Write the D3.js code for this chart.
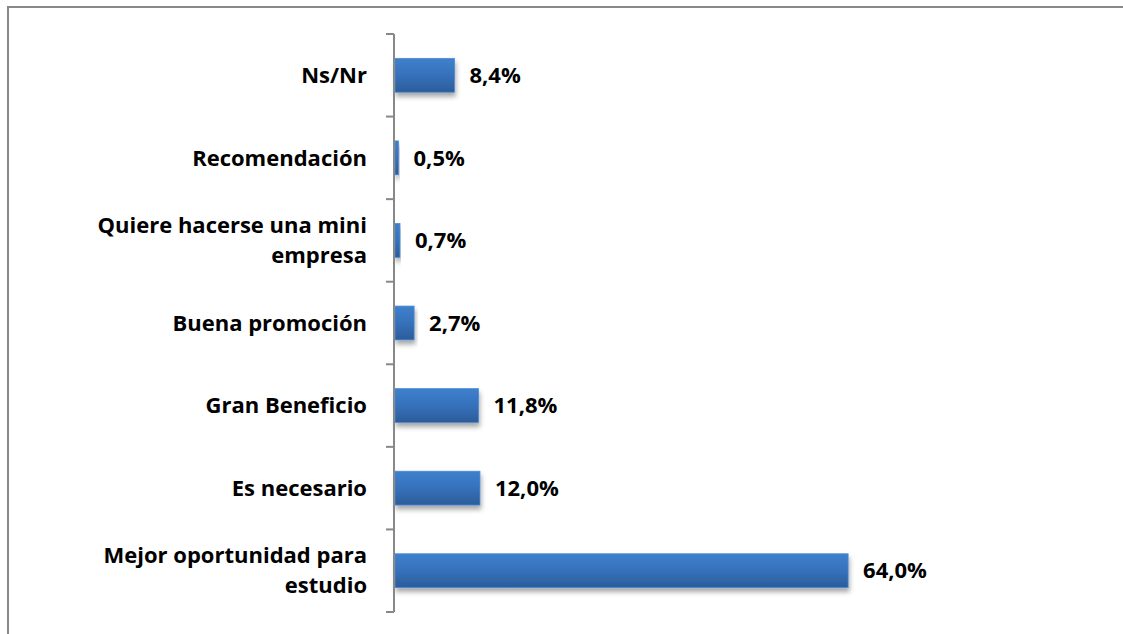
<!DOCTYPE html>
<html>
<head>
<meta charset="utf-8">
<script src="https://cdn.jsdelivr.net/npm/d3@7"></script>
<style>
  html, body { margin: 0; padding: 0; background: #fff; }
  svg { display: block; }
  text { font-family: "Open Sans", Lato, sans-serif; font-weight: bold; fill: #000; }
</style>
</head>
<body>
<svg id="chart" width="1123" height="634"></svg>
<script>
// categories top to bottom, as shown in the chart
const categories = [
    ['Ns/Nr'],
    ['Recomendación'],
    ['Quiere hacerse una mini', 'empresa'],
    ['Buena promoción'],
    ['Gran Beneficio'],
    ['Es necesario'],
    ['Mejor oportunidad para', 'estudio']
];
const values = [8.4, 0.5, 0.7, 2.7, 11.8, 12.0, 64.0];
const valueLabels = ['8,4%', '0,5%', '0,7%', '2,7%', '11,8%', '12,0%', '64,0%'];

const width = 1123;
const height = 634;
const axisX = 394;

const svg = d3.select('#chart');

// chart border (only top and left edges are visible)
svg.append('line')
    .attr('x1', 7).attr('x2', width).attr('y1', 7).attr('y2', 7)
    .attr('stroke', '#888').attr('stroke-width', 2);
svg.append('line')
    .attr('x1', 8).attr('x2', 8).attr('y1', 6).attr('y2', height)
    .attr('stroke', '#888').attr('stroke-width', 2);

const defs = svg.append('defs');
const grad = defs.append('linearGradient')
    .attr('id', 'barGrad')
    .attr('x1', 0).attr('y1', 0).attr('x2', 0).attr('y2', 1);
grad.append('stop').attr('offset', '0%').attr('stop-color', '#3e80cd');
grad.append('stop').attr('offset', '50%').attr('stop-color', '#3671bb');
grad.append('stop').attr('offset', '100%').attr('stop-color', '#2c5c99');

const shadow = defs.append('filter')
    .attr('id', 'shadow')
    .attr('x', '-10%').attr('y', '-20%').attr('width', '130%').attr('height', '170%');
shadow.append('feDropShadow')
    .attr('dx', 1).attr('dy', 4).attr('stdDeviation', 2.5)
    .attr('flood-color', '#000').attr('flood-opacity', 0.35);

const x = d3.scaleLinear()
    .domain([0, 70])
    .range([axisX + 1, axisX + 1 + 70 * 7.08]);

const y = d3.scaleBand()
    .domain(d3.range(categories.length))
    .range([34, 612])
    .paddingInner(0.59)
    .paddingOuter(0.295);

// bars
svg.append('g')
    .selectAll('rect')
    .data(values)
    .join('rect')
    .attr('x', x(0))
    .attr('y', (d, i) => y(i))
    .attr('width', d => x(d) - x(0))
    .attr('height', y.bandwidth())
    .attr('fill', 'url(#barGrad)')
    .attr('stroke', '#4f8ad3')
    .attr('stroke-width', 0.8)
    .attr('filter', 'url(#shadow)');

// vertical axis with ticks between categories
const tickYs = d3.range(categories.length + 1).map(i => 34 + i * (578 / categories.length));
const axis = svg.append('g').attr('stroke', '#888').attr('stroke-width', 2);
axis.append('line')
    .attr('x1', axisX).attr('x2', axisX)
    .attr('y1', tickYs[0]).attr('y2', tickYs[tickYs.length - 1]);
axis.selectAll('.tick')
    .data(tickYs)
    .join('line')
    .attr('class', 'tick')
    .attr('x1', axisX - 8).attr('x2', axisX)
    .attr('y1', d => d).attr('y2', d => d);

// category labels
const labelG = svg.append('g');
categories.forEach((lines, i) => {
    const cy = y(i) + y.bandwidth() / 2;
    const lh = 30;
    const t = labelG.append('text')
        .attr('text-anchor', 'end')
        .attr('font-size', 22);
    lines.forEach((ln, j) => {
        t.append('tspan')
            .attr('x', 367)
            .attr('y', cy + (j - (lines.length - 1) / 2) * lh)
            .attr('dy', '0.35em')
            .text(ln);
    });
});

// value labels
svg.append('g')
    .selectAll('text')
    .data(values)
    .join('text')
    .attr('x', d => x(d) + 15)
    .attr('y', (d, i) => y(i) + y.bandwidth() / 2)
    .attr('dy', '0.35em')
    .attr('font-size', 22)
    .text((d, i) => valueLabels[i]);
</script>
</body>
</html>
